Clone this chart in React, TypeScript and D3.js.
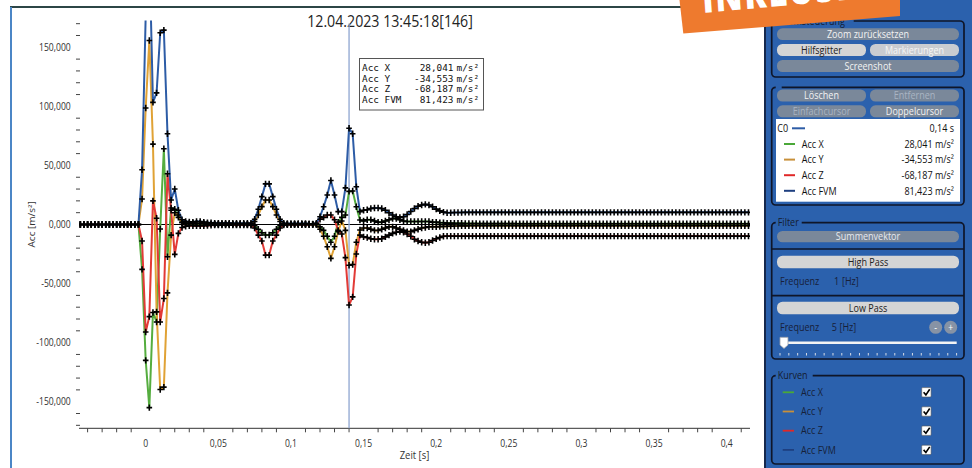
import React from 'react';
import * as d3 from 'd3';

// recording grid: 400 Hz, first sample at -0,045 s
const sampleStart = -0.045;
const sampleStep = 0.0025;

// values in m/s² (10 samples per row)
const accX = [
  0, 0, 0, 0, 0, 0, 0, 0, 0, 0,
  0, 0, 0, 0, 0, 0, 0, -38, -115, -155,
  -74.5, -82.5, -3.8, 64.1, -27.3, 14, 12.9, 6, 2, 1,
  0.5, 0.5, 0.8, 0.6, 0.4, 0.3, 0.3, 0.2, 0.2, 0.2,
  0.2, 0.2, 0.2, 0.2, 0.1, 0.1, 0, -0.3, -1, -4,
  -7, -8.9, -8.9, -7, -4, -1, 0, 0.2, 0.2, 0.2,
  0.2, 0.2, 0.2, 0.1, 0, 0, -2, -5, -10, -15,
  -10, 2, 6, 8, 28.041, 28.4, 15, 3.8, 3, 4,
  4, 3, 2, 2, 3, 4, 5, 5, 4, 3,
  2.5, 2.5, 2.5, 2.5, 2.5, 2.5, 2.5, 2, 2, 1.5,
  1.5, 1.2, 1.2, 1, 1, 1, 0.9, 0.9, 0.8, 0.8,
  0.7, 0.7, 0.7, 0.7, 0.7, 0.7, 0.7, 0.7, 0.7, 0.7,
  0.6, 0.6, 0.6, 0.6, 0.6, 0.6, 0.6, 0.6, 0.6, 0.6,
  0.6, 0.6, 0.6, 0.6, 0.6, 0.6, 0.6, 0.6, 0.6, 0.6,
  0.6, 0.6, 0.6, 0.6, 0.6, 0.6, 0.6, 0.6, 0.6, 0.6,
  0.6, 0.6, 0.6, 0.6, 0.6, 0.6, 0.6, 0.6, 0.6, 0.6,
  0.6, 0.6, 0.6, 0.6, 0.6, 0.6, 0.6, 0.6, 0.6, 0.6,
  0.6, 0.6, 0.6, 0.6, 0.6, 0.6, 0.6, 0.6, 0.6, 0.6,
  0.6, 0.6, 0.6, 0.6, 0.6,
];

const accY = [
  0, 0, 0, 0, 0, 0, 0, 0, 0, 0,
  0, 0, 0, 0, 0, 0, 0, 21.6, 98.6, 155.8,
  68, -74, -139.7, -137.7, -57.9, -9, 10, 8, 1.5, 1,
  0.8, 0.8, 1, 1, 0.8, 0.6, 0.5, 0.5, 0.4, 0.4,
  0.4, 0.4, 0.3, 0.3, 0.3, 0.3, 0.3, 0.5, 2.5, 8,
  15.1, 20.8, 20.8, 15.1, 8, 2.5, 0.5, 0.3, 0.3, 0.3,
  0.3, 0.3, 0.3, 0.2, 0, 0, -4, -10, -18.8, -28.7,
  -18.8, -6, 3, -5, -34.553, -33.8, -15, -4.7, -3, -3,
  -4, -5, -5, -4, -3, -2, -2, -3, -4, -5,
  -6, -6, -5, -4, -3, -2.5, -2, -2, -2, -1.8,
  -1.6, -1.5, -1.4, -1.3, -1.3, -1.2, -1.2, -1.1, -1.1, -1,
  -1, -1, -1, -1, -1, -1, -1, -1, -1, -1,
  -1, -1, -1, -1, -1, -1, -1, -1, -1, -1,
  -1, -1, -1, -1, -1, -1, -1, -1, -1, -1,
  -1, -1, -1, -1, -1, -1, -1, -1, -1, -1,
  -1, -1, -1, -1, -1, -1, -1, -1, -1, -1,
  -1, -1, -1, -1, -1, -1, -1, -1, -1, -1,
  -1, -1, -1, -1, -1, -1, -1, -1, -1, -1,
  -1, -1, -1, -1, -1,
];

const accZ = [
  0, 0, 0, 0, 0, 0, 0, 0, 0, 0,
  0, 0, 0, 0, 0, 0, 0, -14, -91, -78,
  20, 5.3, -82.5, -62.7, 42.9, 12, -25.3, -7.5, -2.5, -1.5,
  -1, -1, -1.2, -1.2, -1, -0.8, -0.6, -0.5, -0.5, -0.5,
  -0.5, -0.5, -0.4, -0.4, -0.4, -0.4, -0.4, -0.6, -3, -9,
  -14, -25.9, -25.9, -14, -9, -3, -0.5, -0.3, -0.3, -0.3,
  -0.3, -0.3, -0.2, -0.2, 0, 0.5, 4.5, 6, 8, 8,
  4, -5, -8, -28, -68.187, -61.3, -25, -9, -10.5, -11,
  -12, -12.5, -12.5, -12, -10.5, -9, -7.5, -6.5, -6, -6.5,
  -8, -10, -12.5, -14, -15, -15.5, -15, -13.5, -12, -11,
  -10, -9.8, -9.8, -9.8, -9.8, -9.8, -9.8, -9.8, -9.8, -9.8,
  -9.8, -9.8, -9.8, -9.8, -9.8, -9.8, -9.8, -9.8, -9.8, -9.8,
  -9.8, -9.8, -9.8, -9.8, -9.8, -9.8, -9.8, -9.8, -9.8, -9.8,
  -9.8, -9.8, -9.8, -9.8, -9.8, -9.8, -9.8, -9.8, -9.8, -9.8,
  -9.8, -9.8, -9.8, -9.8, -9.8, -9.8, -9.8, -9.8, -9.8, -9.8,
  -9.8, -9.8, -9.8, -9.8, -9.8, -9.8, -9.8, -9.8, -9.8, -9.8,
  -9.8, -9.8, -9.8, -9.8, -9.8, -9.8, -9.8, -9.8, -9.8, -9.8,
  -9.8, -9.8, -9.8, -9.8, -9.8, -9.8, -9.8, -9.8, -9.8, -9.8,
  -9.8, -9.8, -9.8, -9.8, -9.8,
];

const accFVM = [
  0, 0, 0, 0, 0, 0, 0, 0, 0, 0,
  0, 0, 0, 0, 0, 0, 0, 46.3, 177, 232,
  103.4, 111.4, 162.3, 164.5, 76.8, 20.8, 30.1, 12, 4, 2.5,
  2.2, 2, 2.5, 2.5, 2, 1.5, 1.5, 1.2, 1.2, 1.2,
  1.2, 1.2, 1, 1, 1, 1, 1, 1.2, 4.4, 12.9,
  23.6, 34.4, 34.4, 23.6, 12.9, 4.4, 1, 0.8, 0.8, 0.8,
  0.8, 0.8, 0.8, 0.6, 0.5, 1, 6.6, 15, 25, 37.2,
  25, 10.9, 10.9, 31, 81.423, 76.8, 32, 10.9, 12, 12.5,
  13.5, 14, 14, 13.5, 12, 10, 8, 6.5, 6, 6.5,
  8.5, 11, 13.5, 15.5, 16.5, 17, 16.5, 15, 13, 11.5,
  10.5, 10, 10, 10.1, 10.2, 10.2, 10.3, 10.3, 10.3, 10.3,
  10.3, 10.3, 10.3, 10.3, 10.3, 10.3, 10.3, 10.3, 10.3, 10.3,
  10.3, 10.3, 10.3, 10.3, 10.3, 10.3, 10.3, 10.3, 10.3, 10.3,
  10.3, 10.3, 10.3, 10.3, 10.3, 10.3, 10.3, 10.3, 10.3, 10.3,
  10.3, 10.3, 10.3, 10.3, 10.3, 10.3, 10.3, 10.3, 10.3, 10.3,
  10.3, 10.3, 10.3, 10.3, 10.3, 10.3, 10.3, 10.3, 10.3, 10.3,
  10.3, 10.3, 10.3, 10.3, 10.3, 10.3, 10.3, 10.3, 10.3, 10.3,
  10.3, 10.3, 10.3, 10.3, 10.3, 10.3, 10.3, 10.3, 10.3, 10.3,
  10.3, 10.3, 10.3, 10.3, 10.3,
];

const seriesNames = ['Acc X', 'Acc Y', 'Acc Z', 'Acc FVM'];
const seriesColors = ['#55ad3f', '#e0a235', '#e23a36', '#2d5ca6'];
const legendColors = ['#4aa838', '#c8903a', '#e02828', '#1e3f80'];

const yMajorTicks = [-150, -100, -50, 0, 50, 100, 150];
const xMajorTicks = [0, 0.05, 0.1, 0.15, 0.2, 0.25, 0.3, 0.35, 0.4];
const cursorTime = 0.14;
const cursorReadout = [28.041, -34.553, -68.187, 81.423];
const titleText = '12.04.2023 13:45:18[146]';
const highPassHz = 1;
const lowPassHz = 5;

const W = 972;
const H = 468;
const plot = { left: 79, right: 750, top: 20.5, bottom: 428.3 };

const SQ = 0.86; // the screenshot is slightly squeezed horizontally
const SANS = "'Segoe UI', 'Open Sans', sans-serif";
const MONO = "'DejaVu Sans Mono', 'Liberation Mono', monospace";
const PANEL = '#2b61ad';
const BOX = '#0f1629';
const GRAY = '#7a889a';
const LIGHT = '#d5d5d5';

const de = d3.formatLocale({ decimal: ',', thousands: '.', grouping: [3], currency: ['', ' €'], minus: '-' });
const fmt3 = de.format('.3f');
const fmtT = de.format('~f');

function Txt({ x, y, size = 10.5, anchor = 'start', fill = '#1b1b1b', weight = 400, family = SANS, children }: any) {
  return (
    <text
      transform={`translate(${x},${y}) scale(${SQ},1)`}
      fontSize={size}
      textAnchor={anchor}
      fill={fill}
      fontWeight={weight}
      fontFamily={family}
    >
      {children}
    </text>
  );
}

function Btn({ x0, x1, y0, y1, label, bg = GRAY, fg = '#f2f2f2' }: any) {
  return (
    <g>
      <rect x={x0} y={y0} width={x1 - x0} height={y1 - y0} rx={5.5} fill={bg} />
      <Txt x={(x0 + x1) / 2} y={(y0 + y1) / 2 + 3.7} anchor="middle" fill={fg}>{label}</Txt>
    </g>
  );
}

function Group({ x0, x1, y0, y1, label, gap }: any) {
  return (
    <g>
      <rect x={x0} y={y0} width={x1 - x0} height={y1 - y0} rx={4} fill="none" stroke={BOX} strokeWidth={1.7} />
      <rect x={x0 + 4} y={y0 - 3} width={gap} height={6} fill={PANEL} />
      {label && <Txt x={x0 + 6} y={y0 + 3.6} fill="#141c30">{label}</Txt>}
    </g>
  );
}

export default function App() {
  const time = d3.range(accX.length).map((i) => sampleStart + i * sampleStep);
  const x = d3.scaleLinear().domain([0, 0.4]).range([145.7, 726.7]);
  const y = d3.scaleLinear().domain([-150, 150]).range([401.7, 47.3]);
  const series = [accX, accY, accZ, accFVM];

  const line = d3
    .line<number>()
    .x((_, i) => x(time[i]))
    .y((d) => y(d));

  const crosses = (vals: number[]) =>
    vals
      .map((v, i) => {
        const px = x(time[i]);
        const py = y(v);
        return `M${px - 2.8},${py}h5.6M${px},${py - 3.2}v6.4`;
      })
      .join('');

  const yMinor = d3.range(-170, 171, 10).filter((v) => v % 50 !== 0);
  const xMinor = d3.range(-4, 42).filter((v) => v % 5 !== 0).map((v) => v / 100);
  const cx = x(cursorTime);

  const tipLines = seriesNames.map((n, i) => ({ name: n, value: fmt3(cursorReadout[i]) }));
  const sliderTicks = d3.range(21).map((i) => 780 + i * 8.83);

  return (
    <div style={{ position: 'absolute', left: 0, top: 0 }}>
      <svg width={W} height={H} style={{ display: 'block' }}>
        <defs>
          <clipPath id="plotClip">
            <rect x={plot.left} y={plot.top} width={plot.right - plot.left} height={plot.bottom - plot.top} />
          </clipPath>
          <clipPath id="bannerClip">
            <polygon points="679.5,0 900,0 900,16 683.3,33.5" />
          </clipPath>
        </defs>
        <rect width={W} height={H} fill="#ffffff" />

        {/* chart frame */}
        <line x1={10} x2={720} y1={7} y2={7} stroke="#2c4646" strokeWidth={2} />
        <line x1={11} x2={11} y1={7} y2={H} stroke="#4b86c6" strokeWidth={2} />

        <Txt x={390} y={26.5} size={16.5} anchor="middle" fill="#222">{titleText}</Txt>

        {/* y axis */}
        {yMinor.map((v) => (
          <line key={`ym${v}`} x1={76} x2={80} y1={y(v)} y2={y(v)} stroke="#444" strokeWidth={1} />
        ))}
        {yMajorTicks.map((v) => (
          <Txt key={`yl${v}`} x={70.7} y={y(v) + 3.5} size={10} anchor="end" fill="#333">{fmt3(v)}</Txt>
        ))}
        <text
          transform={`translate(34.5,${(plot.top + plot.bottom) / 2}) rotate(-90) scale(1,${SQ})`}
          fontSize={10}
          textAnchor="middle"
          fill="#333"
          fontFamily={SANS}
        >
          Acc [m/s²]
        </text>

        {/* x axis */}
        <line x1={plot.left} x2={plot.right} y1={plot.bottom} y2={plot.bottom} stroke="#333" strokeWidth={1} />
        {xMinor.map((v) => (
          <line key={`xm${v}`} x1={x(v)} x2={x(v)} y1={plot.bottom} y2={plot.bottom + 4} stroke="#444" strokeWidth={1} />
        ))}
        {xMajorTicks.map((v) => (
          <Txt key={`xl${v}`} x={x(v)} y={447} size={10} anchor="middle" fill="#333">{fmtT(v)}</Txt>
        ))}
        <Txt x={(plot.left + plot.right) / 2} y={459} size={11} anchor="middle" fill="#333">Zeit [s]</Txt>

        {/* zero line and cursor */}
        <line x1={plot.left} x2={plot.right} y1={y(0)} y2={y(0)} stroke="#000" strokeWidth={1} />
        <line x1={cx} x2={cx} y1={plot.top + 3} y2={plot.bottom} stroke="#8ea5d0" strokeWidth={1.3} />

        <g clipPath="url(#plotClip)">
          {series.map((s, i) => (
            <path key={`l${i}`} d={line(s) || ''} fill="none" stroke={seriesColors[i]} strokeWidth={2} strokeLinejoin="round" />
          ))}
          {series.map((s, i) => (
            <path key={`c${i}`} d={crosses(s)} fill="none" stroke="#000" strokeWidth={1.6} />
          ))}
        </g>

        {/* cursor readout */}
        <rect x={359.5} y={58.5} width={124} height={51.5} fill="#fff" stroke="#555" strokeWidth={1} />
        {tipLines.map((t, i) => (
          <g key={`tip${i}`} fontFamily={MONO} fontSize={9.4} fill="#111">
            <text x={362} y={71 + i * 10.6}>{t.name}</text>
            <text x={453.5} y={71 + i * 10.6} textAnchor="end">{t.value}</text>
            <text x={456.5} y={71 + i * 10.6}>m/s²</text>
          </g>
        ))}

        {/* control panel */}
        <rect x={764} y={0} width={2} height={H} fill="#16284d" />
        <rect x={766} y={0} width={W - 766} height={H} fill={PANEL} />

        <Group x0={771.7} x1={964} y0={21} y1={77} label="Zoomsteuerung" gap={78} />
        <Btn x0={777} x1={959} y0={28.3} y1={40} label="Zoom zurücksetzen" />
        <Btn x0={777} x1={866} y0={44} y1={56} label="Hilfsgitter" bg={LIGHT} fg="#222" />
        <Btn x0={870} x1={959} y0={44} y1={56} label="Markierungen" bg="#c9ccd1" fg="#f6f6f6" />
        <Btn x0={777} x1={959} y0={60} y1={72} label="Screenshot" />

        <Group x0={771.7} x1={964} y0={87.3} y1={205} gap={6} />
        <Btn x0={777} x1={866} y0={89.5} y1={101.5} label="Löschen" />
        <Btn x0={870} x1={959} y0={89.5} y1={101.5} label="Entfernen" fg="#a9b4c2" />
        <Btn x0={777} x1={866} y0={105.3} y1={117.3} label="Einfachcursor" fg="#a9b4c2" />
        <Btn x0={870} x1={959} y0={105.3} y1={117.3} label="Doppelcursor" />
        <rect x={776} y={119} width={184} height={82.7} fill="#fff" />
        <Txt x={777.3} y={132} fill="#111">C0</Txt>
        <line x1={792} x2={805} y1={128.3} y2={128.3} stroke={seriesColors[3]} strokeWidth={2} />
        <Txt x={954} y={132} anchor="end" fill="#111">{`${fmtT(cursorTime)} s`}</Txt>
        {seriesNames.map((n, i) => {
          const cy = 144 + i * 15.6;
          return (
            <g key={`ls${i}`}>
              <line x1={784} x2={795} y1={cy} y2={cy} stroke={legendColors[i]} strokeWidth={2} />
              <Txt x={801.7} y={cy + 3.7} fill="#111">{n}</Txt>
              <Txt x={954} y={cy + 3.7} anchor="end" fill="#111">{`${fmt3(cursorReadout[i])} m/s²`}</Txt>
            </g>
          );
        })}

        <Group x0={771.7} x1={964} y0={222.7} y1={359} label="Filter" gap={26} />
        <line x1={771.7} x2={964} y1={249} y2={249} stroke={BOX} strokeWidth={1.7} />
        <line x1={771.7} x2={964} y1={295.7} y2={295.7} stroke={BOX} strokeWidth={1.7} />
        <Btn x0={777} x1={959} y0={231} y1={242.3} label="Summenvektor" fg="#e6e9ee" />
        <Btn x0={777} x1={959} y0={255.7} y1={268.3} label="High Pass" bg={LIGHT} fg="#222" />
        <Txt x={780} y={284.7} fill="#17203a">Frequenz</Txt>
        <Txt x={834} y={284.7} fill="#17203a">{highPassHz}</Txt>
        <Txt x={842} y={284.7} fill="#17203a">[Hz]</Txt>
        <Btn x0={777} x1={959} y0={301.7} y1={314.3} label="Low Pass" bg={LIGHT} fg="#222" />
        <Txt x={780} y={331} fill="#17203a">Frequenz</Txt>
        <Txt x={831.7} y={331} fill="#17203a">{lowPassHz}</Txt>
        <Txt x={839.5} y={331} fill="#17203a">[Hz]</Txt>
        <circle cx={935.7} cy={327.3} r={6.5} fill="#8793a5" />
        <circle cx={950.7} cy={327.3} r={6.5} fill="#8793a5" />
        <Txt x={935.7} y={330.8} size={10} anchor="middle" fill="#fff">-</Txt>
        <Txt x={950.7} y={330.8} size={10} anchor="middle" fill="#fff">+</Txt>
        <line x1={780} x2={956.7} y1={342.7} y2={342.7} stroke="#f4f4f4" strokeWidth={2.5} />
        <polygon points="780,337.3 788,337.3 788,345 784,348.5 780,345" fill="#fff" stroke="#9aa0a8" strokeWidth={0.8} />
        {sliderTicks.map((tx, i) => (
          <line key={`st${i}`} x1={tx} x2={tx} y1={353} y2={355.5} stroke="#d8dde6" strokeWidth={1} />
        ))}

        <Group x0={771.7} x1={964} y0={375.7} y1={464} label="Kurven" gap={37} />
        {seriesNames.map((n, i) => {
          const cy = 392.3 + i * 19.2;
          return (
            <g key={`kv${i}`}>
              <line x1={782.7} x2={794} y1={cy} y2={cy} stroke={legendColors[i]} strokeWidth={1.8} />
              <Txt x={801} y={cy + 3.7} fill="#16213a">{n}</Txt>
              <rect x={921.7} y={cy - 4.7} width={9.4} height={9.4} rx={1} fill="#fff" stroke="#555" strokeWidth={0.6} />
              <path d={`M923.6,${cy}l2.3,2.6l3.8,-5.6`} fill="none" stroke="#000" strokeWidth={1.6} />
            </g>
          );
        })}

        {/* promo banner */}
        <polygon points="679.5,0 900,0 900,16 683.3,33.5" fill="#ee7a2e" />
        <g clipPath="url(#bannerClip)">
          <text
            transform="translate(703,13) scale(0.86,1) rotate(-4.5)"
            fontSize={38}
            fontWeight={800}
            fill="#fff"
            fontFamily={SANS}
            letterSpacing={2}
          >
            INKLUSIVE
          </text>
        </g>
      </svg>
    </div>
  );
}
